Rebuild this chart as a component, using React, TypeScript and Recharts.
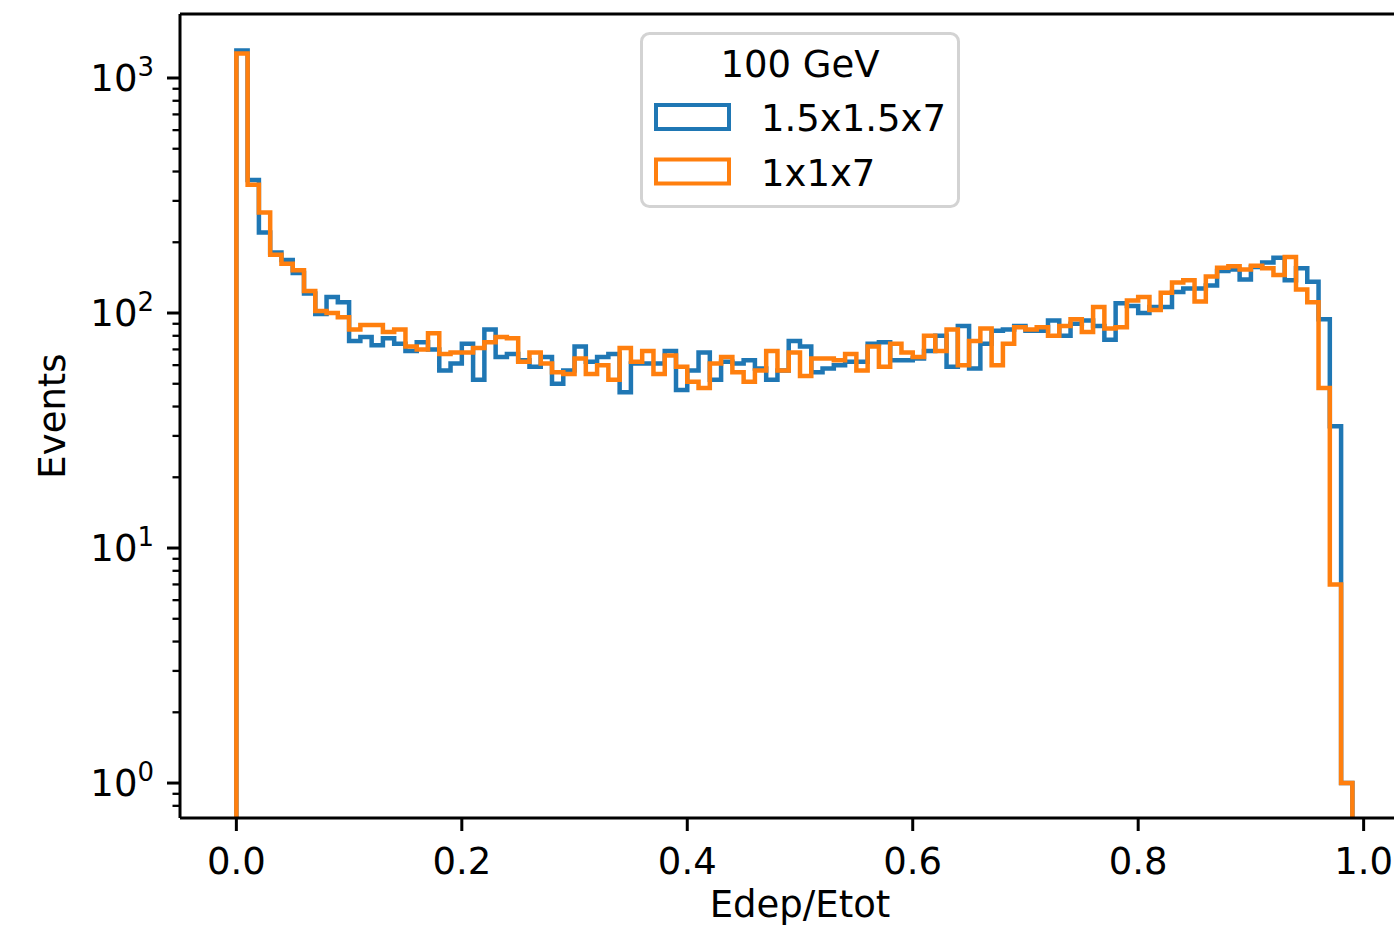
import { LineChart, Line, XAxis, YAxis, ReferenceLine, Legend } from 'recharts'

const FONT = 'DejaVu Sans'
const BIN_WIDTH = 0.01

// per-bin event counts, 100 bins over [0, 1]
const COUNTS_15X15X7 = [
    1310, 368, 220, 181, 168, 148, 121, 99, 117, 111,
    76, 79, 73, 78, 74, 69, 75, 70, 57, 61,
    74, 52, 85, 65, 67, 63, 59, 65, 50, 57,
    72, 62, 65, 67, 46, 61, 61, 61, 69, 47,
    57, 68, 52, 62, 61, 63, 58, 52, 57, 76,
    72, 56, 58, 60, 62, 62, 74, 75, 63, 63,
    64, 69, 80, 59, 88, 58, 74, 84, 85, 88,
    84, 84, 93, 80, 90, 93, 88, 77, 110, 107,
    100, 106, 106, 123, 127, 127, 131, 151, 153, 139,
    157, 164, 172, 138, 155, 136, 94, 33, 1, 0,
]

const COUNTS_1X1X7 = [
    1270, 351, 268, 177, 162, 152, 124, 102, 100, 96,
    85, 89, 89, 83, 85, 72, 70, 82, 67, 68,
    68, 71, 75, 79, 78, 62, 68, 61, 56, 55,
    64, 55, 60, 52, 71, 62, 69, 55, 66, 59,
    51, 48, 61, 65, 56, 51, 57, 69, 57, 68,
    54, 64, 64, 63, 67, 57, 72, 59, 74, 68,
    65, 80, 69, 85, 60, 76, 86, 60, 74, 87,
    85, 87, 80, 88, 94, 83, 106, 86, 87, 113,
    117, 103, 122, 135, 138, 112, 143, 156, 158, 153,
    159, 155, 145, 173, 126, 111, 48, 7, 1, 0,
]

const SERIES_NAMES = ['1.5x1.5x7', '1x1x7']
const SERIES_COLORS = ['#1f77b4', '#ff7f0e']
const LEGEND_TITLE = '100 GeV'

const X_TICKS = [0, 0.2, 0.4, 0.6, 0.8, 1.0]
const X_DOMAIN = [-0.05, 1.05]
const Y_MAJOR = [1, 10, 100, 1000]
const Y_MINOR = [0.8, 0.9, 2, 3, 4, 5, 6, 7, 8, 9, 20, 30, 40, 50, 60, 70, 80, 90, 200, 300, 400, 500, 600, 700, 800, 900]
const Y_DOMAIN = [0.71, 1872]

// empty bins sit below the visible range and get clipped
const FLOOR = 0.5

function stepOutline(counts: number[]) {
    const pts = [{ x: 0, y: FLOOR }]
    counts.forEach((c, i) => {
        const v = c > 0 ? c : FLOOR
        pts.push({ x: i * BIN_WIDTH, y: v }, { x: (i + 1) * BIN_WIDTH, y: v })
    })
    pts.push({ x: counts.length * BIN_WIDTH, y: FLOOR })
    return pts
}

const XTick = ({ x, y, payload }: any) => (
    <g>
        <line x1={x} x2={x} y1={y} y2={y + 13} stroke="#000" strokeWidth={3} />
        <text x={x} y={y + 56} textAnchor="middle" fontFamily={FONT} fontSize={37} fill="#000">
            {payload.value.toFixed(1)}
        </text>
    </g>
)

const YTick = ({ x, y, payload }: any) => {
    const lg = Math.log10(payload.value)
    const exp = Math.round(lg)
    const major = Math.abs(lg - exp) < 1e-9
    return (
        <g>
            <line x1={x - (major ? 13 : 7.5)} x2={x} y1={y} y2={y} stroke="#000" strokeWidth={major ? 3 : 2.3} />
            {major && (
                <text x={x - 26} y={y + 13} textAnchor="end" fontFamily={FONT} fontSize={37} fill="#000">
                    10
                    <tspan dy={-15} fontSize={26}>{exp}</tspan>
                </text>
            )}
        </g>
    )
}

const renderLegend = ({ payload }: any) => (
    <svg width={320} height={176}>
        <rect x={1.5} y={1.5} width={317} height={173} rx={8} fill="#fff" fillOpacity={0.8} stroke="#d3d3d3" strokeWidth={3} />
        <text x={160} y={45} textAnchor="middle" fontFamily={FONT} fontSize={37} fill="#000">{LEGEND_TITLE}</text>
        {(payload || []).map((entry: any, i: number) => (
            <g key={entry.value}>
                <rect x={16} y={73 + i * 54.5} width={73} height={24} fill="none" stroke={entry.color} strokeWidth={4} />
                <text x={121} y={99 + i * 54.5} fontFamily={FONT} fontSize={37} fill="#000">{entry.value}</text>
            </g>
        ))}
    </svg>
)

export default function App() {
    const outlines = [stepOutline(COUNTS_15X15X7), stepOutline(COUNTS_1X1X7)]
    return (
        <div style={{ position: 'fixed', left: 0, top: 0, width: 1394, height: 935, overflow: 'hidden', background: '#fff' }}>
            <LineChart width={1440} height={935} margin={{ top: 14, right: 20, bottom: 0, left: 0 }}>
                <XAxis
                    type="number"
                    dataKey="x"
                    domain={X_DOMAIN}
                    ticks={X_TICKS}
                    interval={0}
                    allowDataOverflow
                    height={117}
                    tickSize={0}
                    tickMargin={0}
                    tick={<XTick />}
                    axisLine={{ stroke: '#000', strokeWidth: 3 }}
                    label={({ viewBox }: any) => (
                        <text x={viewBox.x + viewBox.width / 2} y={viewBox.y + 99} textAnchor="middle" fontFamily={FONT} fontSize={37} fill="#000">
                            Edep/Etot
                        </text>
                    )}
                />
                <YAxis
                    type="number"
                    dataKey="y"
                    scale="log"
                    domain={Y_DOMAIN}
                    ticks={[...Y_MAJOR, ...Y_MINOR]}
                    interval={0}
                    allowDataOverflow
                    width={180}
                    tickSize={0}
                    tickMargin={0}
                    tick={<YTick />}
                    axisLine={{ stroke: '#000', strokeWidth: 3 }}
                    label={({ viewBox }: any) => {
                        const cx = viewBox.x + 52
                        const cy = viewBox.y + viewBox.height / 2
                        return (
                            <text x={cx} y={cy} transform={`rotate(-90 ${cx} ${cy})`} textAnchor="middle" dominantBaseline="central" fontFamily={FONT} fontSize={37} fill="#000">
                                Events
                            </text>
                        )
                    }}
                />
                <ReferenceLine y={Y_DOMAIN[1]} stroke="#000" strokeWidth={3} />
                <ReferenceLine x={X_DOMAIN[1]} stroke="#000" strokeWidth={3} />
                {outlines.map((pts, i) => (
                    <Line
                        key={SERIES_NAMES[i]}
                        data={pts}
                        dataKey="y"
                        name={SERIES_NAMES[i]}
                        type="linear"
                        stroke={SERIES_COLORS[i]}
                        strokeWidth={4.5}
                        dot={false}
                        activeDot={false}
                        isAnimationActive={false}
                    />
                ))}
                <Legend
                    layout="vertical"
                    align="center"
                    verticalAlign="middle"
                    content={renderLegend}
                    wrapperStyle={{ left: 640, top: 32, width: 320, height: 176 }}
                />
            </LineChart>
        </div>
    )
}
